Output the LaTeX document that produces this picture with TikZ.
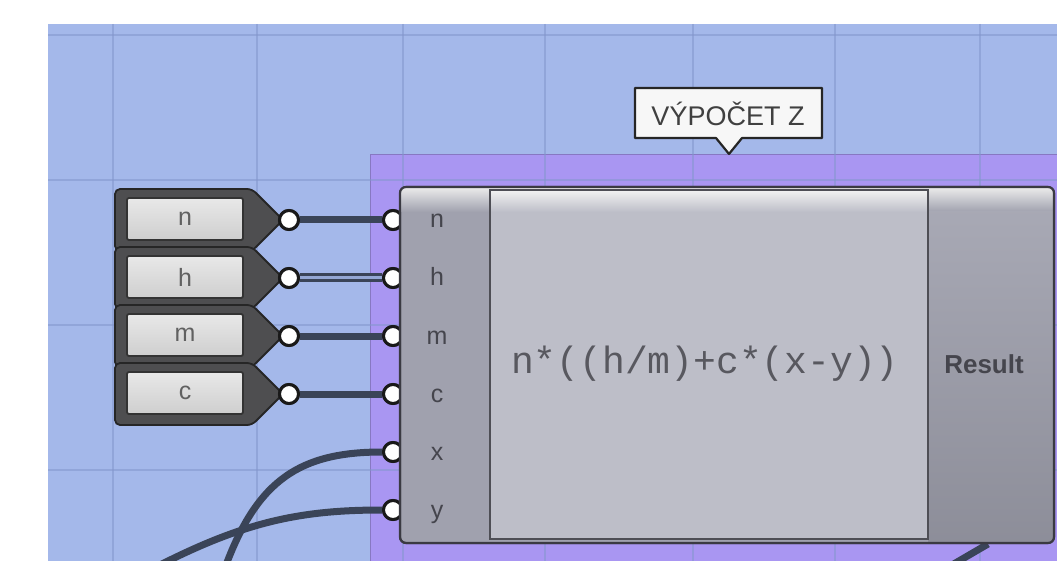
\documentclass[tikz,border=0pt]{standalone}
\usepackage{fontspec}
\setmainfont{Liberation Sans}
\newfontfamily\monofnt{Liberation Mono}
\usetikzlibrary{calc}
\definecolor{bgblue}{HTML}{A4B8EA}
\definecolor{gridc}{HTML}{8396CC}
\definecolor{grpc}{HTML}{A996F2}
\definecolor{wirec}{HTML}{3A4458}
\definecolor{sldark}{HTML}{4E4E50}
\definecolor{edge}{HTML}{3A3A42}
\definecolor{colgray}{HTML}{A0A1AE}
\definecolor{midgray}{HTML}{BDBEC8}
\definecolor{txtc}{HTML}{45454D}
\tikzset{
  gridln/.style={draw=gridc, line width=1.2pt, opacity=0.55},
  sliderbody/.style={fill=sldark, draw=black!85, line width=1.8pt, rounded corners=5pt},
  sliderbox/.style={draw=black!80, line width=1.8pt, rounded corners=2pt, top color=gray!18, bottom color=gray!38,
    minimum width=116pt, minimum height=42pt, inner sep=0pt, font=\fontsize{25}{25}\selectfont, text=black!62},
  grip/.style={circle, fill=white, draw=black!90, line width=3pt, minimum size=19pt, inner sep=0pt},
  wire/.style={draw=wirec, line width=7pt},
  dwire/.style={draw=wirec, line width=3pt, double=bgblue!85!wirec, double distance=3pt},
  inlbl/.style={font=\fontsize{25}{25}\selectfont, text=txtc, inner sep=0pt},
}
\begin{document}
\begin{tikzpicture}[x=1pt,y=-1pt]
\useasboundingbox (0,0) rectangle (1057,561);
% canvas
\fill[white] (0,0) rectangle (1057,561);
\fill[bgblue] (48,24) rectangle (1057,561);
% group
\fill[grpc] (370,155) rectangle (1057,561);
\draw[grpc!80!black, line width=1pt] (370,561) -- (370,155) -- (1057,155);
% grid
\foreach \gx in {113,257,403,545,693,835,980} \draw[gridln] (\gx,24) -- (\gx,561);
\foreach \gy in {35,180,325,470} \draw[gridln] (48,\gy) -- (1057,\gy);

% sliders
\foreach \nm/\yy/\lb in {sn/220/n, sh/278/h, sm/336/m, sc/394/c}{
  \path[sliderbody] (115,\yy-31) -- (252,\yy-31) -- (283,\yy) -- (252,\yy+31) -- (115,\yy+31) -- cycle;
}
\foreach \nm/\yy/\lb in {sn/220/n, sh/278/h, sm/336/m, sc/394/c}{
  \node[sliderbox] (\nm) at (185,\yy-1) {\lb};
  \node[grip] (\nm o) at (289,\yy) {};
}

% input grips
\foreach \nm/\yy in {in/220, ih/278, im/336, ic/394, ix/452, iy/510}{
  \node[grip] (\nm) at (393,\yy) {};
}

% wires
\draw[wire] (sno) -- (in);
\draw[dwire] (sho) -- (ih);
\draw[wire] (smo) -- (im);
\draw[wire] (sco) -- (ic);
\coordinate (xfree) at (226,565);
\coordinate (yfree) at (160,565);
\draw[wire] (xfree) .. controls (258,480) and (300,452) .. (ix);
\draw[wire] (yfree) .. controls (245,522) and (300,510) .. (iy);
\coordinate (resout) at (988,544);
\coordinate (resend) at (952,565);
\draw[wire, line width=7pt] (resout) -- (resend);

% re-draw grips on top of wire ends
\foreach \nm/\yy in {in/220, ih/278, im/336, ic/394, ix/452, iy/510}{
  \node[grip] at (393,\yy) {};
}
\foreach \nm/\yy in {sn/220, sh/278, sm/336, sc/394}{
  \node[grip] at (289,\yy) {};
}

% component body
\path[fill=colgray, draw=edge, line width=2pt, rounded corners=6pt] (400,187) rectangle (1054,543);
\begin{scope}
  \clip[rounded corners=6pt] (400,187) rectangle (1054,543);
  \shade[top color=white!85!gray, bottom color=colgray] (400,187) rectangle (1054,212);
  \shade[top color=colgray!92!white, bottom color=colgray!88!black] (928,212) rectangle (1054,543);
\end{scope}
\path[draw=edge, line width=2.2pt, rounded corners=6pt] (400,187) rectangle (1054,543);
% center box
\path[fill=midgray, draw=edge!90, line width=1.8pt] (490,190) rectangle (928,539);
\shade[top color=white!88!gray, bottom color=midgray] (491,191) rectangle (927,212);
\draw[edge!90, line width=2pt] (490,190) rectangle (928,539);

\node[inner sep=0pt, text=txtc!90, font=\monofnt\fontsize{38}{38}\selectfont] (expr) at (705,364) {n*((h/m)+c*(x-y))};
\node[inner sep=0pt, text=txtc, font=\bfseries\fontsize{26}{26}\selectfont] (res) at (984,364) {Result};
\foreach \yy/\lb in {220/n, 278/h, 336/m, 394/c, 452/x, 510/y}{
  \node[inlbl, anchor=base] at (437,\yy+8) {\lb};
}

% tooltip
\path[fill=white!94!gray, draw=black!85, line width=2.2pt, line join=round]
  (635,88) -- (822,88) -- (822,138) -- (742,138) -- (729,154) -- (716,138) -- (635,138) -- cycle;
\node[inner sep=0pt, text=black!75, font=\fontsize{27}{27}\selectfont] (tip) at (728,114) {VÝPOČET Z};
\end{tikzpicture}
\end{document}
